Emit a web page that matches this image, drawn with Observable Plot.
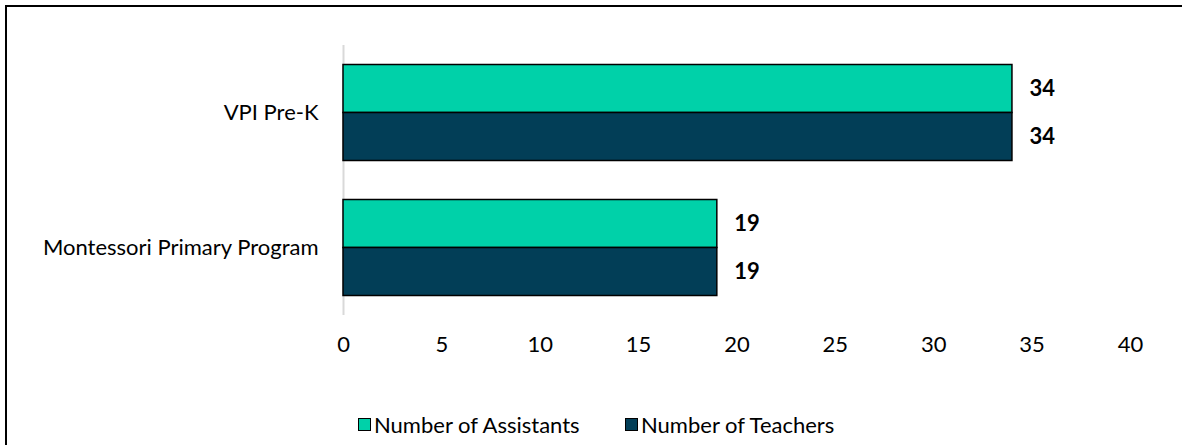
<!DOCTYPE html>
<html>
<head>
<meta charset="utf-8">
<script src="https://cdn.jsdelivr.net/npm/d3@7"></script>
<script src="https://cdn.jsdelivr.net/npm/@observablehq/plot@0.6"></script>
<style>
  html, body { margin: 0; padding: 0; background: #fff; }
  #wrap { position: relative; width: 1182px; height: 445px; overflow: hidden; font-family: Lato, "Open Sans", sans-serif; }
  #frame { position: absolute; left: 5px; top: 5px; width: 1300px; height: 600px; border: 2px solid #000; box-sizing: border-box; }
  #chart { position: absolute; left: 0; top: 0; }
  #legend { position: absolute; top: 411px; left: 0; width: 1182px; font-size: 22px; color: #000; }
  .item { position: absolute; display: flex; align-items: center; white-space: nowrap; }
  .sw { width: 13px; height: 13px; border: 1.5px solid #000; margin-right: 3px; box-sizing: border-box; }
</style>
</head>
<body>
<div id="wrap">
  <div id="frame"></div>
  <div id="chart"></div>
  <div id="legend"></div>
</div>
<script>
const programs = ["VPI Pre-K", "Montessori Primary Program"];
const seriesNames = ["Number of Assistants", "Number of Teachers"];
const assistants = [34, 19];
const teachers = [34, 19];
const xTicks = [0, 5, 10, 15, 20, 25, 30, 35, 40];
const colors = ["#00D1A9", "#023E57"];

const rows = [];
programs.forEach((p, i) => {
  rows.push({program: p, series: seriesNames[0], value: assistants[i]});
  rows.push({program: p, series: seriesNames[1], value: teachers[i]});
});

const FS = 22;
const chart = Plot.plot({
  width: 1182,
  height: 400,
  marginLeft: 343,
  marginRight: 52,
  marginTop: 44.5,
  marginBottom: 85.5,
  style: {fontFamily: "Lato, 'Open Sans', sans-serif", fontSize: FS + "px", color: "#000", background: "transparent"},
  x: {domain: [0, 40], label: null},
  y: {domain: seriesNames, paddingInner: 0, paddingOuter: 0.378, axis: null},
  fy: {domain: programs, padding: 0, label: null, axis: null},
  color: {domain: seriesNames, range: colors},
  marks: [
    Plot.axisX({ticks: xTicks, tickSize: 0, tickPadding: 21, label: null, fontSize: FS}),
    Plot.axisFy({anchor: "left", tickSize: 0, tickPadding: 25, label: null, fontSize: FS}),
    Plot.ruleX([0], {stroke: "#d9d9d9", strokeWidth: 2}),
    Plot.barX(rows, {x: "value", y: "series", fy: "program", fill: "series", stroke: "#000", strokeWidth: 1.5}),
    Plot.text(rows, {x: "value", y: "series", fy: "program", text: d => String(d.value), textAnchor: "start", dx: 17, fontWeight: "bold", fontSize: FS, fill: "#000"})
  ]
});
document.getElementById("chart").appendChild(chart);

const legend = document.getElementById("legend");
const lefts = [358, 625];
seriesNames.forEach((s, i) => {
  const it = document.createElement("div");
  it.className = "item";
  it.style.left = lefts[i] + "px";
  const sw = document.createElement("div");
  sw.className = "sw";
  sw.style.background = colors[i];
  const t = document.createElement("span");
  t.textContent = s;
  it.appendChild(sw);
  it.appendChild(t);
  legend.appendChild(it);
});
</script>
</body>
</html>
